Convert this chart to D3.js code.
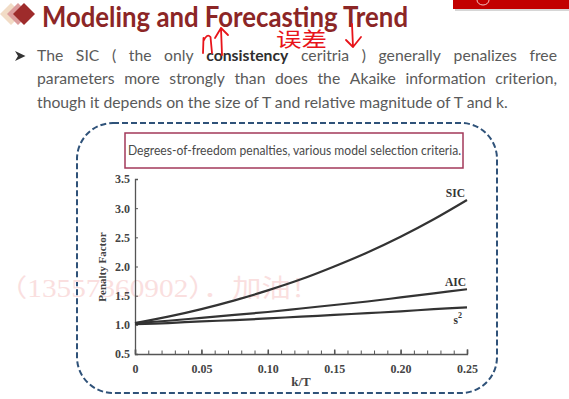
<!DOCTYPE html>
<html>
<head>
<meta charset="utf-8">
<script src="https://cdn.jsdelivr.net/npm/d3@7"></script>
<style>
  body { margin: 0; background: #fff; }
  svg { display: block; }
</style>
</head>
<body>
<div id="slide"></div>
<script>
// values (k/T on x, penalty factor on y)
var kT        = [0, 0.025, 0.05, 0.075, 0.10, 0.125, 0.15, 0.175, 0.20, 0.225, 0.25];
var sicValues = [1.03, 1.14, 1.27, 1.42, 1.59, 1.78, 2.00, 2.24, 2.51, 2.81, 3.14];
var aicValues = [1.03, 1.07, 1.12, 1.17, 1.22, 1.28, 1.34, 1.40, 1.47, 1.54, 1.61];
var s2Values  = [1.01, 1.03, 1.06, 1.08, 1.11, 1.14, 1.17, 1.20, 1.23, 1.27, 1.30];
var seriesNames = ["SIC", "AIC", "s2"];

var xTickValues = [0, 0.05, 0.10, 0.15, 0.20, 0.25];
var xTickLabels = ["0", "0.05", "0.10", "0.15", "0.20", "0.25"];
var yTickValues = [0.5, 1.0, 1.5, 2.0, 2.5, 3.0, 3.5];
var yTickLabels = ["0.5", "1.0", "1.5", "2.0", "2.5", "3.0", "3.5"];

var titleText = "Modeling and Forecasting Trend";
var bodyLine1 = ["The", "SIC", "(", "the", "only", "consistency", "ceritria", ")", "generally", "penalizes", "free"];
var bodyLine2 = ["parameters", "more", "strongly", "than", "does", "the", "Akaike", "information", "criterion,"];
var bodyLine3 = "though it depends on the size of T and relative magnitude of T and k.";
var captionText = "Degrees-of-freedom penalties, various model selection criteria.";

var svgWidth = 569;
var svgHeight = 399;

var svg = d3.select("#slide")
  .append("svg")
  .attr("width", svgWidth)
  .attr("height", svgHeight);

// top right red band
svg.append("rect")
  .attr("x", 455).attr("y", 1).attr("width", 120).attr("height", 10)
  .attr("fill", "#bbb").attr("opacity", 0.6);
svg.append("rect")
  .attr("x", 453).attr("y", -2).attr("width", 120).attr("height", 11)
  .attr("fill", "#c20000");
svg.append("path")
  .attr("d", "M477,0 A6,5 0 0 0 489,0")
  .attr("fill", "none").attr("stroke", "#f3c0c0").attr("stroke-width", 1);

// title diamonds
var diamonds = [{c: 11, f: "#f2dcc6"}, {c: 18, f: "#dc9c9c"}, {c: 24, f: "#9e2b2b"}];
svg.selectAll(".dia")
  .data(diamonds)
  .enter()
  .append("path")
  .attr("class", "dia")
  .attr("d", d => `M${d.c - 11},14 L${d.c},3 L${d.c + 11},14 L${d.c},25 Z`)
  .attr("fill", d => d.f);

// title
svg.append("text")
  .attr("x", 42).attr("y", 27)
  .attr("font-family", "Lato, 'Open Sans', sans-serif")
  .attr("font-weight", "bold")
  .attr("font-size", 28)
  .attr("fill", "#8c2626")
  .attr("textLength", 366)
  .attr("lengthAdjust", "spacingAndGlyphs")
  .text(titleText);

// bullet
svg.append("path")
  .attr("d", "M15,51 L25.5,56 L15,61 L18,56 Z")
  .attr("fill", "#333");

// body text, lines 1-2 justified, line 3 left aligned
var bodyFont = "Lato, 'Open Sans', sans-serif";
var body = svg.append("g");

var line3 = body.append("text")
  .attr("x", 0).attr("y", 108)
  .attr("font-family", bodyFont).attr("font-size", 15.5)
  .attr("fill", "#5a5a5a")
  .text(bodyLine3);
var natural = line3.node().getComputedTextLength();
var sx = 471 / natural;
body.attr("transform", `translate(37,0) scale(${sx},1)`);
var lineWidth = 520 / sx;

function justify(words, y) {
  var items = words.map(w => {
    var t = body.append("text")
      .attr("y", y)
      .attr("font-family", bodyFont).attr("font-size", 15.5)
      .attr("font-weight", w === "consistency" ? "bold" : "normal")
      .attr("fill", w === "consistency" ? "#2e2e2e" : "#5a5a5a")
      .text(w);
    return {node: t, w: t.node().getComputedTextLength()};
  });
  var total = d3.sum(items, d => d.w);
  var gap = (lineWidth - total) / (items.length - 1);
  var xPos = 0;
  items.forEach(d => {
    d.node.attr("x", xPos);
    xPos += d.w + gap;
  });
}
justify(bodyLine1, 61);
justify(bodyLine2, 84.5);

// handwritten red notes
var pen = svg.append("g")
  .attr("fill", "none").attr("stroke", "#e8141a")
  .attr("stroke-width", 1.8).attr("stroke-linecap", "round").attr("stroke-linejoin", "round");
pen.append("path").attr("d", "M203,53 L203.5,38 M203.5,41 Q207,33 210.5,37 L212,53");
pen.append("path").attr("d", "M221,28 L222,55 M215,38 L221,28 L228,35");
pen.append("path").attr("d", "M352,24 L353,47 M346,40 L353,47 L361,37");
svg.append("text")
  .attr("x", 276).attr("y", 47)
  .attr("font-family", "'Noto Sans CJK SC', sans-serif")
  .attr("font-size", 20)
  .attr("fill", "#e8141a")
  .attr("textLength", 51)
  .attr("lengthAdjust", "spacingAndGlyphs")
  .text("误差");

// dashed rounded frame
svg.append("rect")
  .attr("x", 77).attr("y", 123).attr("width", 420).attr("height", 270)
  .attr("rx", 36).attr("ry", 36)
  .attr("fill", "none")
  .attr("stroke", "#2f5279")
  .attr("stroke-width", 2)
  .attr("stroke-dasharray", "6,3");

// caption box
svg.append("rect")
  .attr("x", 125).attr("y", 133).attr("width", 338).attr("height", 35)
  .attr("fill", "#fff")
  .attr("stroke", "#a3385a").attr("stroke-width", 1.5);
var cap = svg.append("text")
  .attr("x", 128).attr("y", 154.5)
  .attr("font-family", "Lato, 'Open Sans', sans-serif")
  .attr("font-size", 13)
  .attr("fill", "#4a4a4a")
  .text(captionText);
cap.attr("textLength", 333).attr("lengthAdjust", "spacingAndGlyphs");

// faint watermark
svg.append("text")
  .attr("x", -2).attr("y", 297)
  .attr("font-family", "'Liberation Serif', 'Noto Sans CJK SC', serif")
  .attr("font-size", 25)
  .attr("fill", "#fadfdf")
  .attr("textLength", 322)
  .attr("lengthAdjust", "spacingAndGlyphs")
  .text("（13557360902）．加油！");

// chart
var xScale = d3.scaleLinear().domain([0, 0.25]).range([135, 467]);
var yScale = d3.scaleLinear().domain([0.5, 3.5]).range([354, 179]);

var serif = "'Liberation Serif', 'DejaVu Serif', serif";
var axisColor = "#555";

// minor x ticks
var minorTicks = d3.range(0, 26).map(i => i / 100);
var xMinor = svg.append("g")
  .attr("transform", `translate(0,${yScale(0.5)})`)
  .call(d3.axisBottom(xScale).tickValues(minorTicks).tickSize(-3.5).tickFormat(""));
xMinor.select(".domain").remove();
xMinor.selectAll("line").attr("stroke", axisColor).attr("stroke-width", 1);

var xAxis = svg.append("g")
  .attr("transform", `translate(0,${yScale(0.5)})`)
  .call(d3.axisBottom(xScale)
    .tickValues(xTickValues)
    .tickSize(-4.5)
    .tickPadding(10)
    .tickFormat((d, i) => xTickLabels[i]));
xAxis.select(".domain").attr("stroke", axisColor).attr("stroke-width", 1.3);
xAxis.selectAll("line").attr("stroke", axisColor).attr("stroke-width", 1.5);
xAxis.selectAll("text")
  .attr("font-family", serif).attr("font-weight", "bold")
  .attr("font-size", 12).attr("fill", "#444");

var yAxis = svg.append("g")
  .attr("transform", `translate(${xScale(0)},0)`)
  .call(d3.axisLeft(yScale)
    .tickValues(yTickValues)
    .tickSize(-3)
    .tickPadding(5)
    .tickFormat((d, i) => yTickLabels[i]));
yAxis.select(".domain").attr("stroke", axisColor).attr("stroke-width", 1.3);
yAxis.selectAll("line").attr("stroke", axisColor).attr("stroke-width", 1);
yAxis.selectAll("text")
  .attr("font-family", serif).attr("font-weight", "bold")
  .attr("font-size", 12).attr("fill", "#444");

// curves
var series = [sicValues, aicValues, s2Values];
var line = d3.line()
  .x((d, i) => xScale(kT[i]))
  .y(d => yScale(d))
  .curve(d3.curveCatmullRom);

svg.selectAll(".curve")
  .data(series)
  .enter()
  .append("path")
  .attr("class", "curve")
  .attr("d", line)
  .attr("fill", "none")
  .attr("stroke", "#333")
  .attr("stroke-width", 2.2);

// curve labels
var last = kT.length - 1;
var labelOffsets = [-3, -3, 17];
var labelShift = [-2, -1, -5];
var labels = svg.selectAll(".clabel")
  .data(series)
  .enter()
  .append("text")
  .attr("class", "clabel")
  .attr("x", (d, i) => xScale(kT[last]) + labelShift[i])
  .attr("y", (d, i) => yScale(d[last]) + labelOffsets[i])
  .attr("text-anchor", "end")
  .attr("font-family", serif).attr("font-weight", "bold")
  .attr("font-size", 11.5).attr("fill", "#333");
labels.each(function(d, i) {
  var t = d3.select(this);
  if (seriesNames[i] === "s2") {
    t.append("tspan").text("s");
    t.append("tspan").attr("dy", -6).attr("font-size", 8).text("2");
  } else {
    t.text(seriesNames[i]);
  }
});

// axis titles
svg.append("text")
  .attr("transform", `translate(106,267) rotate(-90)`)
  .attr("text-anchor", "middle")
  .attr("font-family", serif).attr("font-weight", "bold")
  .attr("font-size", 11).attr("fill", "#444")
  .text("Penalty Factor");

svg.append("text")
  .attr("x", xScale(0.125)).attr("y", 386)
  .attr("text-anchor", "middle")
  .attr("font-family", serif).attr("font-weight", "bold")
  .attr("font-size", 13).attr("fill", "#444")
  .text("k/T");
</script>
</body>
</html>
